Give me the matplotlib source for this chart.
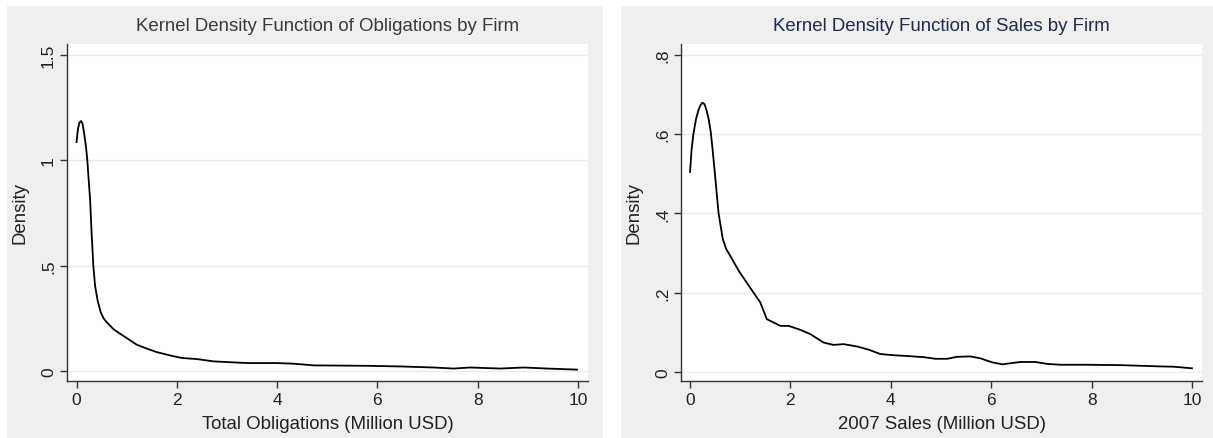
import matplotlib.pyplot as plt
from matplotlib.patches import Rectangle

plt.rcParams['font.family'] = ['Liberation Sans', 'DejaVu Sans']

# kernel density of total obligations (million USD)
oblig_x = [0.0, 0.03, 0.06, 0.09, 0.12, 0.15, 0.19, 0.215, 0.25, 0.27, 0.30,
           0.335, 0.37, 0.42, 0.48, 0.54, 0.6, 0.73, 0.83, 1.03, 1.2, 1.43,
           1.6, 1.85, 2.1, 2.4, 2.73, 3.4, 4.0, 4.33, 4.73, 5.79, 6.46, 7.12,
           7.52, 7.85, 8.45, 8.92, 9.39, 9.98]
oblig_y = [1.085, 1.15, 1.178, 1.185, 1.172, 1.13, 1.06, 1.0, 0.88, 0.815,
           0.657, 0.5, 0.404, 0.335, 0.28, 0.25, 0.232, 0.2, 0.183, 0.152,
           0.125, 0.104, 0.09, 0.075, 0.062, 0.057, 0.046, 0.038, 0.038,
           0.035, 0.027, 0.025, 0.022, 0.017, 0.012, 0.017, 0.012, 0.017,
           0.012, 0.007]

# kernel density of 2007 sales (million USD)
sales_x = [0.0, 0.03, 0.067, 0.12, 0.167, 0.21, 0.247, 0.29, 0.333, 0.37,
           0.413, 0.45, 0.5, 0.567, 0.62, 0.653, 0.72, 0.8, 0.97, 1.13, 1.4,
           1.53, 1.8, 1.965, 2.2, 2.4, 2.66, 2.86, 3.06, 3.33, 3.56, 3.79,
           4.06, 4.33, 4.66, 4.89, 5.12, 5.32, 5.59, 5.79, 6.02, 6.22, 6.58,
           6.88, 7.12, 7.38, 7.91, 8.58, 9.31, 9.64, 10.0]
sales_y = [0.504, 0.56, 0.6, 0.638, 0.66, 0.673, 0.679, 0.675, 0.658, 0.638,
           0.605, 0.56, 0.494, 0.402, 0.36, 0.335, 0.31, 0.293, 0.255, 0.225,
           0.175, 0.133, 0.116, 0.116, 0.106, 0.095, 0.074, 0.068, 0.07,
           0.064, 0.056, 0.045, 0.042, 0.040, 0.037, 0.033, 0.033, 0.038,
           0.039, 0.034, 0.024, 0.019, 0.025, 0.025, 0.020, 0.018, 0.018,
           0.017, 0.014, 0.013, 0.009]

x_ticks = [0, 2, 4, 6, 8, 10]
oblig_yticks = [0, 0.5, 1, 1.5]
oblig_ylabels = ['0', '.5', '1', '1.5']
sales_yticks = [0, 0.2, 0.4, 0.6, 0.8]
sales_ylabels = ['0', '.2', '.4', '.6', '.8']

W, H = 1213, 439
fig = plt.figure(figsize=(W / 100, H / 100), dpi=100)
fig.patch.set_facecolor('white')

BG = '#efefef'
GRID = '#e4eef0'


def px_rect(x0, y0, x1, y1):
    # pixel box (top-left origin) -> figure fraction [l, b, w, h]
    return [x0 / W, 1 - y1 / H, (x1 - x0) / W, (y1 - y0) / H]


# grey graph regions behind each panel
for x0, x1 in [(7, 603), (621, 1213)]:
    l, b, w, h = px_rect(x0, 7, x1, 439)
    fig.add_artist(Rectangle((l, b), w, h, transform=fig.transFigure,
                             facecolor=BG, edgecolor='none', zorder=0))

panels = [
    dict(box=(67, 45, 588, 382), x=oblig_x, y=oblig_y, xlim=(-0.19, 10.2),
         ylim=(-0.047, 1.55), yticks=oblig_yticks, ylabels=oblig_ylabels,
         title='Kernel Density Function of Obligations by Firm',
         tcolor='#3a3a3a', xlabel='Total Obligations (Million USD)'),
    dict(box=(681, 45, 1202, 382), x=sales_x, y=sales_y, xlim=(-0.18, 10.2),
         ylim=(-0.023, 0.827), yticks=sales_yticks, ylabels=sales_ylabels,
         title='Kernel Density Function of Sales by Firm',
         tcolor='#1c2c4c', xlabel='2007 Sales (Million USD)'),
]

for p in panels:
    ax = fig.add_axes(px_rect(*p['box']))
    ax.set_facecolor('white')
    ax.plot(p['x'], p['y'], color='black', lw=1.3, zorder=3,
            solid_joinstyle='round')
    ax.set_xlim(*p['xlim'])
    ax.set_ylim(*p['ylim'])
    ax.set_xticks(x_ticks)
    ax.set_xticklabels([str(t) for t in x_ticks], fontsize=12.5)
    ax.set_yticks(p['yticks'])
    ax.set_yticklabels(p['ylabels'], fontsize=12.5, rotation=90, va='center')
    ax.grid(axis='y', color=GRID, lw=1.0)
    ax.set_axisbelow(True)
    for side in ['top', 'right']:
        ax.spines[side].set_visible(False)
    for side in ['left', 'bottom']:
        ax.spines[side].set_color('#333333')
        ax.spines[side].set_linewidth(1.0)
    ax.tick_params(length=5, width=1.0, color='#333333', labelcolor='#222222',
                   pad=3)
    ax.set_title(p['title'], fontsize=13.4, color=p['tcolor'], pad=10)
    ax.set_xlabel(p['xlabel'], fontsize=13.4, color='#222222', labelpad=6)
    ax.set_ylabel('Density', fontsize=13.4, color='#222222', labelpad=9)

fig.savefig('out.png', dpi=100, facecolor='white')
